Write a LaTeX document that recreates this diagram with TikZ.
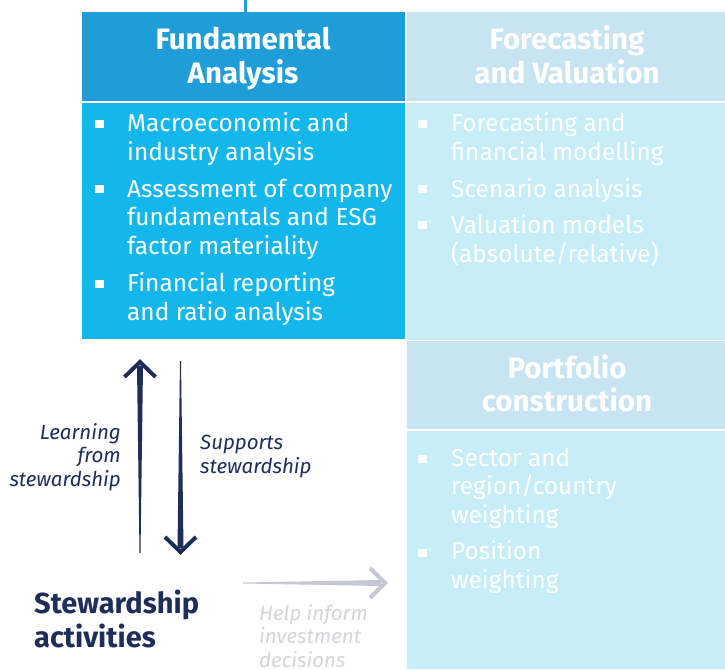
\documentclass[tikz,border=0pt]{standalone}
\usepackage{fontspec}
\setmainfont{Fira Sans}
\usetikzlibrary{calc}
\definecolor{fahead}{HTML}{1E9DD9}
\definecolor{fabody}{HTML}{14B7EC}
\definecolor{rhead}{HTML}{C7E4F3}
\definecolor{rbody}{HTML}{C7EDF8}
\definecolor{navy}{HTML}{1F2D5A}
\definecolor{grayarrow}{HTML}{C5C7D3}
\definecolor{helptext}{HTML}{D5D5DA}
\begin{document}
\begin{tikzpicture}[x=1pt,y=-1pt,
  panel/.style={rectangle, inner sep=0pt, outer sep=0pt},
  hdr/.style={inner sep=0pt, anchor=base, align=center, text=white, font=\fontsize{29.5}{33.5}\selectfont\bfseries},
  itemtext/.style={anchor=base west, inner sep=0pt, align=left, text=white, font=\fontsize{24.4}{28.6}\selectfont},
  bul/.style={rectangle, fill=white, inner sep=0pt, minimum width=8.5pt, minimum height=8pt},
  lab/.style={inner sep=0pt, text=navy, font=\fontsize{20.5}{23.2}\selectfont\itshape},
  chev/.style={line width=4pt, line join=miter, line cap=butt}
]
\useasboundingbox (0,0) rectangle (725,669);
\fill[white] (0,0) rectangle (725,669);

% panels
\node[panel, fill=fabody, minimum width=323pt, minimum height=236pt] (fab) at (243.5,220.5) {};
\node[panel, fill=rbody, minimum width=318pt, minimum height=237pt] (fvb) at (566,221.5) {};
\node[panel, fill=rbody, minimum width=318pt, minimum height=238pt] (pcb) at (566,550) {};
\node[panel, fill=fahead, minimum width=323pt, minimum height=89pt] (fah) at (243.5,56.5) {};
\node[panel, fill=rhead, minimum width=318pt, minimum height=89pt] (fvh) at (566,56.5) {};
\node[panel, fill=rhead, minimum width=318pt, minimum height=88pt] (pch) at (566,385) {};

% header texts (anchor at baseline of last line)
\node[hdr] (fat) at (243,83.5) {Fundamental\\Analysis};
\node[hdr] (fvt) at (567,83.5) {Forecasting\\and Valuation};
\node[hdr] (pct) at (567,411.5) {Portfolio\\construction};

% top line
\coordinate (top) at (245,0);
\draw[fahead, line width=3pt] (top) -- (top |- fah.north);

% left items
\node[bul] (b1) at (99.5,124) {};
\node[itemtext] (i1) at (127,160.5) {Macroeconomic and\\industry analysis};
\node[bul] (b2) at (99.5,189) {};
\node[itemtext] (i2) at (127,254.5) {Assessment of company\\fundamentals and ESG\\factor materiality};
\node[bul] (b3) at (99.5,284) {};
\node[itemtext] (i3) at (127,320) {Financial reporting\\and ratio analysis};

% right items
\node[bul] (b4) at (422.5,124) {};
\node[itemtext] (i4) at (451,160.5) {Forecasting and\\financial modelling};
\node[bul] (b5) at (422.5,189) {};
\node[itemtext] (i5) at (451,197) {Scenario analysis};
\node[bul] (b6) at (422.5,225) {};
\node[itemtext] (i6) at (451,262) {Valuation models\\(absolute/relative)};

% portfolio items
\node[bul] (b7) at (422.5,458.5) {};
\node[itemtext] (i7) at (451,523.5) {Sector and\\region/country\\weighting};
\node[bul] (b8) at (422.5,552.5) {};
\node[itemtext] (i8) at (451,588.5) {Position\\weighting};

% stewardship
\node[inner sep=0pt, anchor=base west, align=left, text=navy, font=\fontsize{29}{33.5}\selectfont\bfseries] (sa) at (34,647) {Stewardship\\activities};

% labels
\node[lab, anchor=base east, align=right] (l1) at (121,486) {Learning\\from\\stewardship};
\node[lab, anchor=base west, align=left] (l2) at (200,473) {Supports\\stewardship};
\node[lab, anchor=base west, align=left, text=helptext] (l3) at (259,667) {Help inform\\investment\\decisions};

% up arrow
\coordinate (upS) at (140,553);
\coordinate (upE) at (140,361);
\fill[navy] ($(upS)+(-0.5,0)$) -- ($(upS)+(0.5,0)$) -- ($(upE)+(3,5)$) -- ($(upE)+(-3,5)$) -- cycle;
\draw[navy, chev] ($(upE)+(-15.5,16)$) -- ($(upE)+(0,1)$) -- ($(upE)+(15.5,16)$);

% down arrow
\coordinate (dnS) at (180.5,361);
\coordinate (dnE) at (180.5,553);
\fill[navy] ($(dnS)+(-0.5,0)$) -- ($(dnS)+(0.5,0)$) -- ($(dnE)+(3,-5)$) -- ($(dnE)+(-3,-5)$) -- cycle;
\draw[navy, chev] ($(dnE)+(-15.5,-16)$) -- ($(dnE)+(0,-1)$) -- ($(dnE)+(15.5,-16)$);

% gray arrow
\coordinate (grS) at (243,583);
\coordinate (grE) at (386,583);
\fill[grayarrow] ($(grS)+(0,-0.5)$) -- ($(grS)+(0,0.5)$) -- ($(grE)+(-5,3)$) -- ($(grE)+(-5,-3)$) -- cycle;
\draw[grayarrow, chev] ($(grE)+(-16,-15)$) -- ($(grE)+(-1,0)$) -- ($(grE)+(-16,15)$);
\end{tikzpicture}
\end{document}
